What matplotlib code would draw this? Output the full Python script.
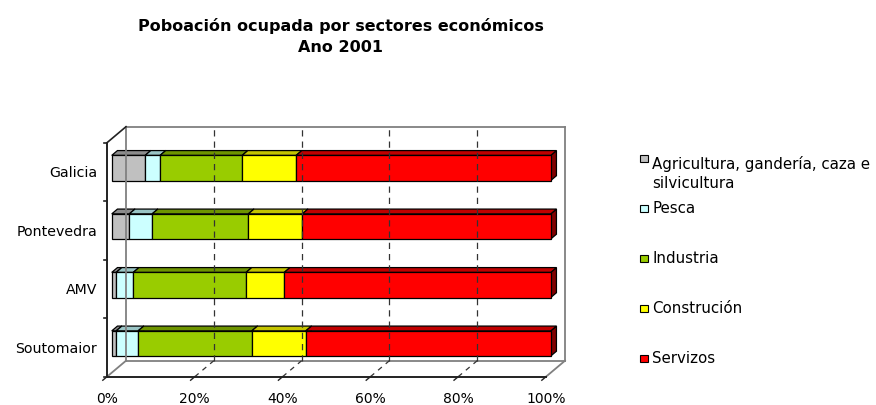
import matplotlib
matplotlib.use("Agg")
import matplotlib.pyplot as plt
from matplotlib.patches import Polygon, Rectangle
import numpy as np

concellos = ["Soutomaior", "AMV", "Pontevedra", "Galicia"]
sectores = ["Agricultura, gandería, caza e\nsilvicultura", "Pesca", "Industria",
            "Construción", "Servizos"]
agricultura = [1.0, 1.0, 4.0, 7.6]
pesca = [5.0, 3.9, 5.2, 3.4]
industria = [25.9, 25.7, 21.9, 18.7]
construcion = [12.3, 8.7, 12.3, 12.3]
servizos = [55.8, 60.7, 56.6, 58.0]
x_ticks = [0, 20, 40, 60, 80, 100]
x_labels = ["0%", "20%", "40%", "60%", "80%", "100%"]

front = ["#C0C0C0", "#CCFFFF", "#99CC00", "#FFFF00", "#FF0000"]
top = ["#8C8C8C", "#99C4C4", "#6E9400", "#C4C400", "#C00000"]
side = ["#666666", "#669999", "#4D6600", "#808000", "#800000"]

W, H = 876, 405
fig = plt.figure(figsize=(W / 100, H / 100), dpi=100)
plt.rcParams["font.family"] = ["DejaVu Sans"]

# plano frontal do grafico en pixeles
px0, px1, py_bot, py_top = 107, 546, 376.7, 142.7
ax = fig.add_axes([px0 / W, (H - py_bot) / H, (px1 - px0) / W, (py_bot - py_top) / H])
ax.set_xlim(0, 100)
ax.set_ylim(-0.5, len(concellos) - 0.5)
for s in ax.spines.values():
    s.set_visible(False)
ax.patch.set_visible(False)

# profundidade da caixa 3D en unidades de datos
DX = 19 / (px1 - px0) * 100
DY = 16 / ((py_bot - py_top) / len(concellos))
ymin, ymax = -0.5, len(concellos) - 0.5
grey = "#808080"

def line(xs, ys, **kw):
    kw.setdefault("clip_on", False)
    ax.plot(xs, ys, **kw)

# paredes
line([DX, 100 + DX], [ymax + DY, ymax + DY], color=grey, lw=1.3)
line([100 + DX, 100 + DX], [ymax + DY, ymin + DY], color=grey, lw=1.3)
line([DX, DX], [ymin + DY, ymax + DY], color=grey, lw=1.3)
line([DX, 100 + DX], [ymin + DY, ymin + DY], color=grey, lw=1.3)
line([0, DX], [ymin, ymin + DY], color=grey, lw=1.3)
line([100, 100 + DX], [ymin, ymin + DY], color=grey, lw=1.3)
for xv in x_ticks[1:-1]:
    line([xv + DX, xv + DX], [ymin + DY, ymax + DY], color="#333333", lw=0.9,
         dashes=(5, 4))
    line([xv, xv + DX], [ymin, ymin + DY], color="#333333", lw=0.9, dashes=(4, 4))
line([0, DX], [ymax, ymax + DY], color="#222222", lw=1.2)
line([0, 0], [ymin, ymax], color="#222222", lw=1.4)
line([0, 100], [ymin, ymin], color="#222222", lw=1.4)
for xv in x_ticks:
    line([xv, xv - DX * 0.22], [ymin, ymin - DY * 0.22], color="#222222", lw=1.0)
for yv in np.arange(ymin, ymax + 0.01, 1.0):
    line([0, -0.7], [yv, yv], color="#222222", lw=1.2)

# barras 3D apiladas
series = [agricultura, pesca, industria, construcion, servizos]
bh = 0.43
fx, fy = 0.25 * DX, 0.25 * DY
tx, ty = 0.30 * DX, 0.30 * DY
for i in range(len(concellos)):
    left = 0.0
    yb = i - bh / 2 + fy
    yt = i + bh / 2 + fy
    for k, ser in enumerate(series):
        v = ser[i]
        x0 = left + fx
        x1 = left + v + fx
        sd = Polygon([(x1, yb), (x1 + tx, yb + ty), (x1 + tx, yt + ty), (x1, yt)],
                     closed=True, fc=side[k], ec="black", lw=0.9, clip_on=False)
        tp = Polygon([(x0, yt), (x1, yt), (x1 + tx, yt + ty), (x0 + tx, yt + ty)],
                     closed=True, fc=top[k], ec="black", lw=0.9, clip_on=False)
        fr = Rectangle((x0, yb), v, bh, fc=front[k], ec="black", lw=0.9,
                       clip_on=False)
        for p in (sd, tp, fr):
            ax.add_patch(p)
        left += v

ax.set_xticks(x_ticks)
ax.set_xticklabels(x_labels, fontsize=10)
ax.set_yticks(range(len(concellos)))
ax.set_yticklabels(concellos, fontsize=10.2)
ax.tick_params(axis="x", length=0, pad=11)
ax.tick_params(axis="y", length=0, pad=7)

fig.text(341 / W, 1 - 36 / H, "Poboación ocupada por sectores económicos\nAno 2001",
         ha="center", va="center", fontsize=11.5, fontweight="bold", linespacing=1.5)

# lenda
ly = [158.5, 208.3, 258.3, 308.3, 358.3]
for k, lab in enumerate(sectores):
    fig.patches.append(Rectangle((640 / W, 1 - (ly[k] + 3.7) / H), 7.5 / W, 7.5 / H,
                                 transform=fig.transFigure, fc=front[k], ec="black",
                                 lw=0.8))
    if "\n" in lab:
        fig.text(652 / W, 1 - (ly[k] - 2.5) / H, lab, ha="left", va="top",
                 fontsize=10.8, linespacing=1.3)
    else:
        fig.text(652 / W, 1 - ly[k] / H, lab, ha="left", va="center", fontsize=10.8)

fig.savefig("out.png", dpi=100)
